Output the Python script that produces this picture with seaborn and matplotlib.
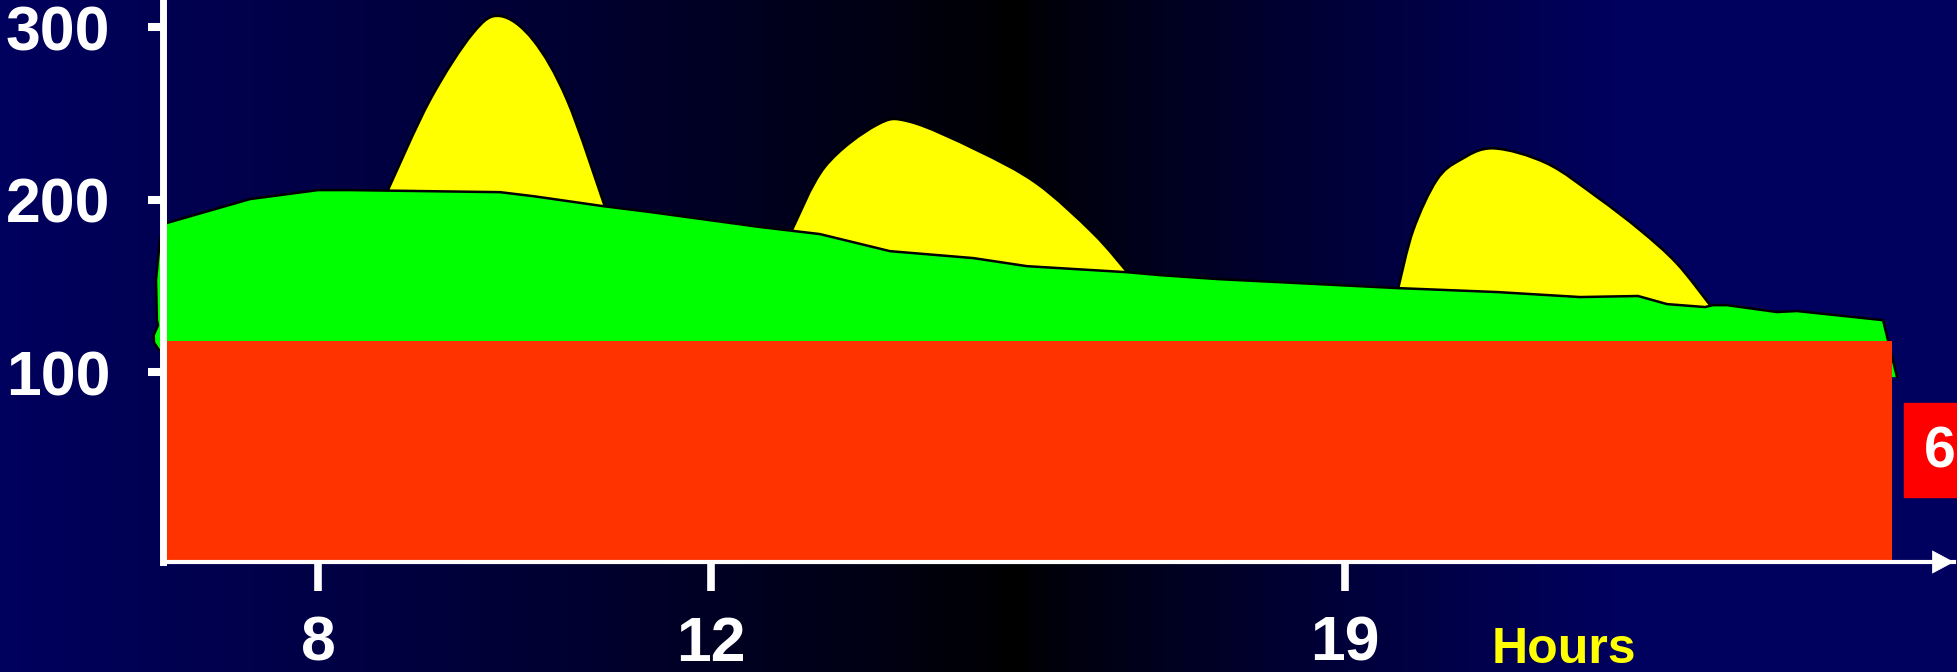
import numpy as np
import matplotlib
matplotlib.use("Agg")
import matplotlib.pyplot as plt
from matplotlib.patches import Rectangle, PathPatch
from matplotlib.path import Path
import seaborn as sns

# ---------------- data ----------------
x_tick_pos = [8.65, 30.6, 66.0]
x_tick_labels = ["8", "12", "19"]
y_ticks = [100, 200, 300]
y_tick_labels = ["100", "200", "300"]

# green area (top edge)
green_x = [0.0, 4.86, 8.65, 10.44, 18.82, 20.66, 24.57, 27.19, 33.33, 36.68,
           40.59, 45.23, 48.24, 53.82, 55.67, 58.91, 68.90, 74.48, 79.12,
           82.36, 83.98, 86.10, 86.54, 87.33, 90.12, 91.23, 96.04, 96.82]
green_y = [185.8, 200.3, 205.5, 205.5, 204.3, 202.0, 196.2, 192.8, 184.1,
           180.0, 170.1, 166.1, 161.4, 157.9, 156.2, 153.9, 148.7, 146.4,
           143.5, 144.1, 139.4, 137.7, 138.8, 138.8, 134.8, 135.4, 130.1, 97.1]
# small spill of the green area left of the y axis
spill_x = [0.0, -0.17, -0.39, -0.34, -0.28, -0.52, -0.50, -0.22, 0.0]
spill_y = [182.0, 177.1, 153.3, 130.1, 127.2, 121.4, 117.0, 112.8, 112.8]

# yellow humps
hump1_x = [12.56, 14.91, 17.31, 18.82, 20.66, 22.56, 24.68]
hump1_y = [205.5, 257.7, 296.5, 306.4, 292.5, 257.7, 195.7]
hump2_x = [35.12, 36.96, 39.84, 41.71, 45.43, 48.78, 51.94, 53.90]
hump2_y = [182.3, 219.0, 243.2, 245.1, 228.7, 209.4, 180.4, 157.2]
hump3_x = [68.97, 69.81, 71.12, 72.42, 74.28, 77.26, 80.05, 82.47, 84.52, 86.38]
hump3_y = [148.7, 182.3, 211.3, 222.9, 229.7, 221.0, 201.6, 182.3, 163.0, 138.8]

# red block
red_left, red_right, red_top = 0.2, 96.55, 118.0

Y_MIN, Y_MAX = -10.1, 315.7


def smooth_verts(xs, ys):
    """Bezier (Catmull-Rom style) control points through the read points."""
    p = np.column_stack([xs, ys]).astype(float)
    n = len(p)
    verts = [p[0]]
    codes = [Path.MOVETO]
    for i in range(n - 1):
        pm = p[max(i - 1, 0)]
        pn = p[min(i + 2, n - 1)]
        c1 = p[i] + (p[i + 1] - pm) / 6.0
        c2 = p[i + 1] - (pn - p[i]) / 6.0
        verts += [c1, c2, p[i + 1]]
        codes += [Path.CURVE4] * 3
    return verts, codes


# ---------------- style ----------------
sns.set_theme(style="white")
plt.rcParams["font.family"] = ["Liberation Sans", "DejaVu Sans"]
plt.rcParams["font.weight"] = "bold"

W, H = 1958, 672
fig = plt.figure(figsize=(W / 100, H / 100), dpi=100)

# background gradient navy -> black -> navy
bg = fig.add_axes([0, 0, 1, 1], zorder=0)
t = np.linspace(0, 1, W)
f = np.where(t < 0.518, (1 - t / 0.518).clip(0, 1) ** 0.8,
             ((t - 0.518) / 0.31).clip(0, 1) ** 0.8)
grad = np.zeros((1, W, 3))
grad[0, :, 2] = 0.37 * f
bg.imshow(grad, aspect="auto", extent=[0, 1, 0, 1])
bg.set_axis_off()

ax_l = 163 / W
ax_r = 1954 / W
ax_b = (H - 562) / H
ax = fig.add_axes([ax_l, ax_b, ax_r - ax_l, 1 - ax_b], zorder=1)
ax.set_facecolor("none")

base = 125.0
for hx, hy in [(hump1_x, hump1_y), (hump2_x, hump2_y), (hump3_x, hump3_y)]:
    v, c = smooth_verts(hx, hy)
    fv = v + [(hx[-1], base), (hx[0], base), (hx[0], hy[0])]
    fc = c + [Path.LINETO, Path.LINETO, Path.CLOSEPOLY]
    ax.add_patch(PathPatch(Path(fv, fc), facecolor="#FFFF00",
                           edgecolor="none", zorder=1))
    ax.add_patch(PathPatch(Path(v, c), facecolor="none", edgecolor="black",
                           lw=1.8, zorder=1.5))

# green area
poly_x = list(green_x) + [0.0] + spill_x[::-1]
poly_y = list(green_y) + [100.0] + spill_y[::-1]
ax.fill(poly_x, poly_y, facecolor="#00FF00", edgecolor="none", zorder=2,
        clip_on=False)
sns.lineplot(x=green_x, y=green_y, sort=False, estimator=None, color="black",
             lw=1.8, ax=ax, zorder=2.5)
ax.plot(spill_x, spill_y, color="black", lw=1.8, zorder=2.5, clip_on=False)

# red block
ax.fill_between([red_left, red_right], Y_MIN, red_top, color="#FF3300",
                lw=0, zorder=3)

ax.set_xlim(0, 100)
ax.set_ylim(Y_MIN, Y_MAX)

# axes styling
for s in ["top", "right"]:
    ax.spines[s].set_visible(False)
ax.spines["left"].set_color("white")
ax.spines["left"].set_linewidth(5)
ax.spines["bottom"].set_color("white")
ax.spines["bottom"].set_linewidth(3)
ax.spines["left"].set_zorder(10)
ax.spines["bottom"].set_zorder(10)

ax.set_xticks(x_tick_pos)
ax.set_xticklabels(x_tick_labels)
ax.set_yticks(y_ticks)
ax.set_yticklabels(y_tick_labels)
ax.tick_params(axis="x", bottom=True, colors="white", length=21, width=5.5,
               pad=17, labelsize=45, direction="out")
ax.tick_params(axis="y", left=True, colors="white", length=10.8, width=5.8,
               pad=27, labelsize=45, direction="out")
for lab in ax.get_xticklabels() + ax.get_yticklabels():
    lab.set_fontweight("bold")
ax.set_xlabel("")
ax.set_ylabel("")
ax.grid(False)

# arrow head on x axis
ax.annotate("", xy=(1.0, 0.0), xytext=(0.985, 0.0), xycoords="axes fraction",
            textcoords="axes fraction",
            arrowprops=dict(arrowstyle="-|>,head_length=15,head_width=8",
                            mutation_scale=1, color="white", lw=0.5,
                            shrinkA=0, shrinkB=0),
            annotation_clip=False, zorder=11)

# "Hours" label
fig.text(1492 / W, (H - 663) / H, "Hours", color="#FFFF00", fontsize=36,
         fontweight="bold", va="baseline", ha="left")

# red box with "6" at right edge
fig.patches.append(Rectangle((1904 / W, (H - 497) / H), 60 / W, 94 / H,
                             transform=fig.transFigure, color="#FF0000",
                             zorder=5))
fig.text(1924 / W, (H - 468) / H, "6", color="white", fontsize=41,
         fontweight="bold", va="baseline", ha="left", zorder=6)

fig.savefig("out.png", dpi=100)
